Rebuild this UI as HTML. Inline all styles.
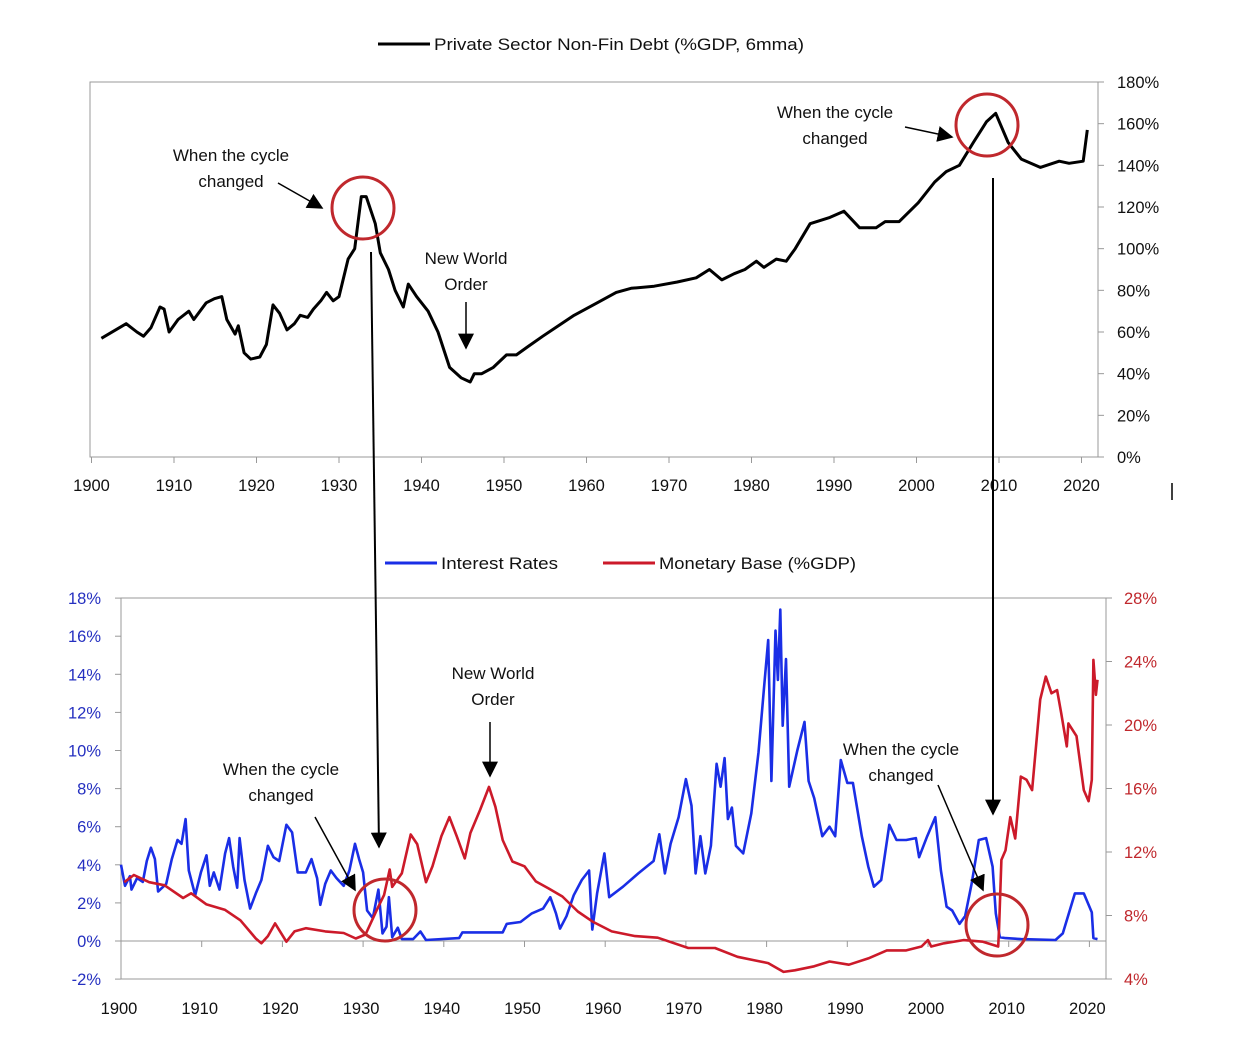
<!DOCTYPE html>
<html><head><meta charset="utf-8">
<style>
html,body{margin:0;padding:0;background:#fff;}
svg{display:block;font-family:"Liberation Sans",sans-serif;}
.tk{font-size:16.5px;fill:#111;}
.ann{font-size:17px;fill:#111;}
</style></head>
<body>
<svg id="chart" width="1244" height="1050" viewBox="0 0 1244 1050" xmlns="http://www.w3.org/2000/svg">
<defs>
<marker id="ah2" viewBox="0 0 10 10" refX="9" refY="5" markerWidth="16" markerHeight="16" orient="auto" markerUnits="userSpaceOnUse"><path d="M0,0 L10,5 L0,10 z" fill="#000"/></marker>
</defs>
<g id="topchart"></g>
<g id="botchart"></g>
<g id="ann"></g>
</svg>
<script>
// ---- Top chart data: Private sector non-fin debt (%GDP)
const debtYears = [1901.2,1904.2,1905.5,1906.3,1907.2,1908.3,1908.8,1909.4,1910.5,1911.8,1912.4,1913.9,1914.9,1915.8,1916.4,1917.4,1917.8,1918.5,1919.3,1920.4,1921.2,1922,1922.8,1923.7,1924.6,1925.3,1926.2,1926.9,1927.8,1928.5,1929.3,1930,1931.1,1931.9,1932.7,1933.3,1934.4,1935,1936,1936.8,1937.8,1938.4,1939.4,1940.8,1942,1943.4,1944.8,1945.9,1946.4,1947.3,1948.7,1950.3,1951.5,1952.9,1954.7,1956.6,1958.5,1961.3,1963.6,1965.4,1968.2,1971,1973.3,1974.9,1976.4,1977.9,1979.2,1980.6,1981.5,1983,1984.2,1985.3,1987.1,1989.5,1991.2,1993.1,1995.1,1996.2,1997.9,2000.2,2002.2,2003.6,2005.2,2006.9,2008.5,2009.6,2011.1,2012.7,2015,2017.3,2018.5,2020.2,2020.7];
const debtValues = [57,64,60,58,62,72,71,60,66,70,66,74,76,77,66,59,63,50,47,48,54,73,69,61,64,68,67,71,75,79,75,77,95,100,125,125,112,98,90,80,72,83,77,70,60,43,38,36,40,40,43,49,49,53,58,63,68,74,79,81,82,84,86,90,85,88,90,94,91,95,94,100,112,115,118,110,110,113,113,122,132,137,140,151,161,165,151,143,139,142,141,142,157];
const topYTicks = [0,20,40,60,80,100,120,140,160,180];
const topXTicks = [1900,1910,1920,1930,1940,1950,1960,1970,1980,1990,2000,2010,2020];

// ---- Bottom chart data
const rateYears = [1900,1900.5,1901.1,1901.3,1902,1902.7,1903.2,1903.7,1904.2,1904.6,1905.6,1906.3,1907,1907.5,1908,1908.4,1909.2,1909.9,1910.6,1911,1911.5,1912.2,1912.9,1913.4,1913.9,1914.4,1914.7,1915.3,1916,1916.7,1917.4,1918.2,1918.9,1919.6,1920.5,1921.2,1921.9,1922.9,1923.6,1924.3,1924.7,1925.3,1926,1926.7,1927.6,1928.3,1929,1929.5,1930,1930.5,1931.2,1931.9,1932.4,1932.9,1933.2,1933.6,1934.3,1934.8,1936.2,1937.1,1937.8,1941.9,1942.3,1947.3,1947.8,1949.5,1950.9,1952.3,1953.2,1953.9,1954.4,1955.2,1956.1,1957.1,1958,1958.4,1959,1959.9,1960.5,1962.2,1964.1,1966,1966.7,1967.4,1968.1,1969.1,1970,1970.7,1971.2,1971.8,1972.4,1973.1,1973.8,1974.3,1974.8,1975.2,1975.7,1976.2,1977.1,1978.1,1979,1979.7,1980.2,1980.6,1981.1,1981.4,1981.7,1982,1982.4,1982.8,1983.8,1984.7,1985.2,1985.9,1986.9,1987.8,1988.5,1989.2,1990,1990.7,1991.8,1992.6,1993.3,1994.2,1995.2,1996.1,1997.3,1998.5,1998.9,1999.9,2000.9,2001.6,2002.3,2003,2003.9,2004.6,2005.4,2006.3,2007.2,2008,2008.4,2008.9,2009.6,2011.5,2015.8,2016.7,2018.2,2019.3,2020.3,2020.5,2021];
const rateValues = [4.0,2.9,3.4,2.7,3.3,3.1,4.2,4.9,4.3,2.6,3.0,4.3,5.3,5.1,6.4,3.7,2.4,3.6,4.5,2.9,3.6,2.7,4.6,5.4,3.9,2.8,5.4,3.2,1.7,2.5,3.2,5.0,4.4,4.2,6.1,5.7,3.6,3.6,4.3,3.3,1.9,3.0,3.7,3.3,2.9,3.7,5.1,4.3,3.6,1.6,1.2,2.7,0.4,0.75,2.3,0.2,0.7,0.1,0.1,0.5,0.05,0.15,0.45,0.45,0.9,1.0,1.45,1.7,2.3,1.45,0.65,1.3,2.4,3.2,3.7,0.6,2.5,4.6,2.3,2.85,3.55,4.2,5.6,3.55,5.1,6.5,8.5,7.1,3.55,5.5,3.55,5.0,9.3,8.1,9.6,6.4,7.0,5.0,4.6,6.7,9.9,13.4,15.8,8.4,16.3,13.7,17.4,11.3,14.8,8.1,10.0,11.5,8.4,7.5,5.5,6.0,5.5,9.5,8.3,8.3,5.5,3.9,2.85,3.2,6.1,5.3,5.3,5.4,4.4,5.5,6.5,3.7,1.8,1.6,0.9,1.3,3.0,5.3,5.4,3.9,1.45,0.2,0.15,0.1,0.05,0.4,2.5,2.5,1.5,0.15,0.1];
const baseYears = [1900.4,1901.6,1903.5,1905.4,1907.7,1908.7,1910.6,1912.9,1914.8,1916.7,1917.4,1918.2,1919.1,1920.5,1921.5,1922.9,1925.3,1927.6,1929.1,1930.3,1931.7,1932.6,1933.3,1933.6,1934.8,1935.9,1936.7,1937.8,1938.6,1939.7,1940.7,1941.6,1942.6,1943.3,1944.5,1945.6,1946.4,1947.3,1948.5,1950,1951.4,1953,1954.7,1956.6,1958.5,1960.8,1963.7,1966.5,1970.3,1973.6,1976.4,1978.3,1980.2,1982.1,1983.5,1985.9,1987.8,1990.2,1992.6,1994.9,1997.3,1999.2,2000,2000.4,2002,2004.4,2006.8,2008.7,2008.8,2009.1,2009.6,2010.2,2010.8,2011.5,2012.2,2012.9,2013.9,2014.6,2015.3,2016,2016.5,2017.2,2017.4,2018.4,2019.3,2019.9,2020.3,2020.5,2020.8,2021];
const baseValues = [10.1,10.55,10.1,9.9,9.1,9.4,8.7,8.35,7.7,6.55,6.25,6.7,7.5,6.35,7.0,7.2,7.0,6.9,6.55,6.8,8.35,9.3,10.9,9.8,10.65,13.1,12.5,10.1,11.1,13.0,14.2,13.0,11.6,13.2,14.65,16.1,14.85,12.75,11.4,11.1,10.15,9.7,9.2,8.25,7.6,7.0,6.7,6.6,5.95,5.95,5.4,5.2,5.0,4.45,4.55,4.8,5.1,4.9,5.3,5.8,5.8,6.05,6.45,6.05,6.25,6.45,6.35,6.05,7.1,11.5,12.1,14.2,12.85,16.75,16.55,15.9,21.6,23.05,22.0,22.2,20.75,18.65,20.1,19.3,15.9,15.2,16.55,24.1,21.9,22.85];
const leftTicks = [-2,0,2,4,6,8,10,12,14,16,18];
const rightTicks = [4,8,12,16,20,24,28];
const botXTicks = [1900,1910,1920,1930,1940,1950,1960,1970,1980,1990,2000,2010,2020];

const NS = "http://www.w3.org/2000/svg";
function mk(tag, attrs, parent, text){
  const e = document.createElementNS(NS, tag);
  for (const k in attrs) e.setAttribute(k, attrs[k]);
  if (text !== undefined) e.textContent = text;
  parent.appendChild(e);
  return e;
}
const tx = y => 91.5 + (y - 1900) * 8.25;
const ty = v => 457 - v * 2.0833;
const bx = y => 121 + (y - 1900) * 8.07;
const byL = v => 941 - v * 19.05;
const byR = v => 979 - (v - 4) * 15.875;

// ---- Top chart
const topG = document.getElementById('topchart');
let r = mk('rect', {x:90, y:82, width:1008, height:375, fill:'none', stroke:'#999', 'stroke-width':1}, topG);


topYTicks.forEach(v => {
  mk('line', {x1:1098, x2:1104, y1:ty(v), y2:ty(v), stroke:'#999'}, topG);
  const t = mk('text', {x:1117, y:ty(v)+6, class:'tk'}, topG, v + '%');
  
  
});
topXTicks.forEach(y => {
  mk('line', {x1:tx(y), x2:tx(y), y1:457, y2:463, stroke:'#999'}, topG);
  const t = mk('text', {x:tx(y), y:491, 'text-anchor':'middle', class:'tk'}, topG, y);
  
  
});
let p = mk('polyline', {points: debtYears.map((y,i)=>tx(y).toFixed(1)+','+ty(debtValues[i]).toFixed(1)).join(' '), fill:'none', stroke:'#000', 'stroke-width':3, 'stroke-linejoin':'round'}, topG);


mk('line', {x1:378, x2:430, y1:44, y2:44, stroke:'#000', 'stroke-width':3}, topG);
let lt = mk('text', {x:434, y:50, class:'ann', textLength:370, lengthAdjust:'spacingAndGlyphs'}, topG, 'Private Sector Non-Fin Debt (%GDP, 6mma)');



// ---- Bottom chart
const botG = document.getElementById('botchart');
r = mk('rect', {x:121, y:598, width:985, height:381, fill:'none', stroke:'#999', 'stroke-width':1}, botG);


mk('line', {x1:121, x2:1106, y1:byL(0), y2:byL(0), stroke:'#999'}, botG);
leftTicks.forEach(v => {
  mk('line', {x1:115, x2:121, y1:byL(v), y2:byL(v), stroke:'#999'}, botG);
  const t = mk('text', {x:101, y:byL(v)+6, 'text-anchor':'end', class:'tk', style:'fill:#2530c0'}, botG, v + '%');
  
  
});
rightTicks.forEach(v => {
  mk('line', {x1:1106, x2:1112, y1:byR(v), y2:byR(v), stroke:'#999'}, botG);
  const t = mk('text', {x:1124, y:byR(v)+6, class:'tk', style:'fill:#c0282d'}, botG, v + '%');
  
  
});
botXTicks.forEach(y => {
  mk('line', {x1:bx(y), x2:bx(y), y1:941, y2:947, stroke:'#999'}, botG);
  const t = mk('text', {x:bx(y)-2, y:1014, 'text-anchor':'middle', class:'tk'}, botG, y);
  
  
});
p = mk('polyline', {points: rateYears.map((y,i)=>bx(y).toFixed(1)+','+byL(rateValues[i]).toFixed(1)).join(' '), fill:'none', stroke:'#1a2ee6', 'stroke-width':2.6, 'stroke-linejoin':'round'}, botG);


p = mk('polyline', {points: baseYears.map((y,i)=>bx(y).toFixed(1)+','+byR(baseValues[i]).toFixed(1)).join(' '), fill:'none', stroke:'#cc1a2a', 'stroke-width':2.6, 'stroke-linejoin':'round'}, botG);


mk('line', {x1:385, x2:437, y1:563, y2:563, stroke:'#1a2ee6', 'stroke-width':3}, botG);
lt = mk('text', {x:441, y:569, class:'ann', textLength:117, lengthAdjust:'spacingAndGlyphs'}, botG, 'Interest Rates');


mk('line', {x1:603, x2:655, y1:563, y2:563, stroke:'#cc1a2a', 'stroke-width':3}, botG);
lt = mk('text', {x:659, y:569, class:'ann', textLength:197, lengthAdjust:'spacingAndGlyphs'}, botG, 'Monetary Base (%GDP)');



// ---- Annotations
const ann = document.getElementById('ann');
function label(cx, y1, l1, l2, name){
  const t1 = mk('text', {x:cx, y:y1, 'text-anchor':'middle', class:'ann'}, ann, l1);
  
  
  const t2 = mk('text', {x:cx, y:y1+26, 'text-anchor':'middle', class:'ann'}, ann, l2);
  
  
}
function arrow(x1,y1,x2,y2,w,name){
  const a = mk('line', {x1:x1,y1:y1,x2:x2,y2:y2, stroke:'#000', 'stroke-width':w, 'marker-end':'url(#ah2)'}, ann);
  
  
}
function circ(cx,cy,name){
  const c = mk('circle', {cx:cx, cy:cy, r:31, fill:'none', stroke:'#c0282d', 'stroke-width':3}, ann);
  
  
}
label(231, 161, 'When the cycle', 'changed', 'cycle-label-1932');
arrow(278, 183, 322, 208, 1.5, 'cycle-arrow-1932');
label(466, 264, 'New World', 'Order', 'new-world-order-label-top');
arrow(466, 302, 466, 348, 1.5, 'nwo-arrow-top');
label(835, 118, 'When the cycle', 'changed', 'cycle-label-2008');
arrow(905, 127, 952, 137, 1.5, 'cycle-arrow-2008');
label(493, 679, 'New World', 'Order', 'new-world-order-label-bottom');
arrow(490, 722, 490, 776, 1.5, 'nwo-arrow-bottom');
label(281, 775, 'When the cycle', 'changed', 'cycle-label-bottom-1932');
arrow(315, 817, 355, 890, 1.5, 'cycle-arrow-bottom-1932');
label(901, 755, 'When the cycle', 'changed', 'cycle-label-bottom-2008');
arrow(938, 785, 983, 890, 1.5, 'cycle-arrow-bottom-2008');
circ(363, 208, 'circle-1932-top');
circ(987, 125, 'circle-2008-top');
circ(385, 910, 'circle-1932-bottom');
circ(997, 925, 'circle-2008-bottom');
arrow(371, 252, 379, 847, 2, 'link-arrow-1932');
arrow(993, 178, 993, 814, 2, 'link-arrow-2008');
const m = mk('line', {x1:1172, x2:1172, y1:483, y2:500, stroke:'#000', 'stroke-width':1.5}, ann);


</script>
</body></html>
